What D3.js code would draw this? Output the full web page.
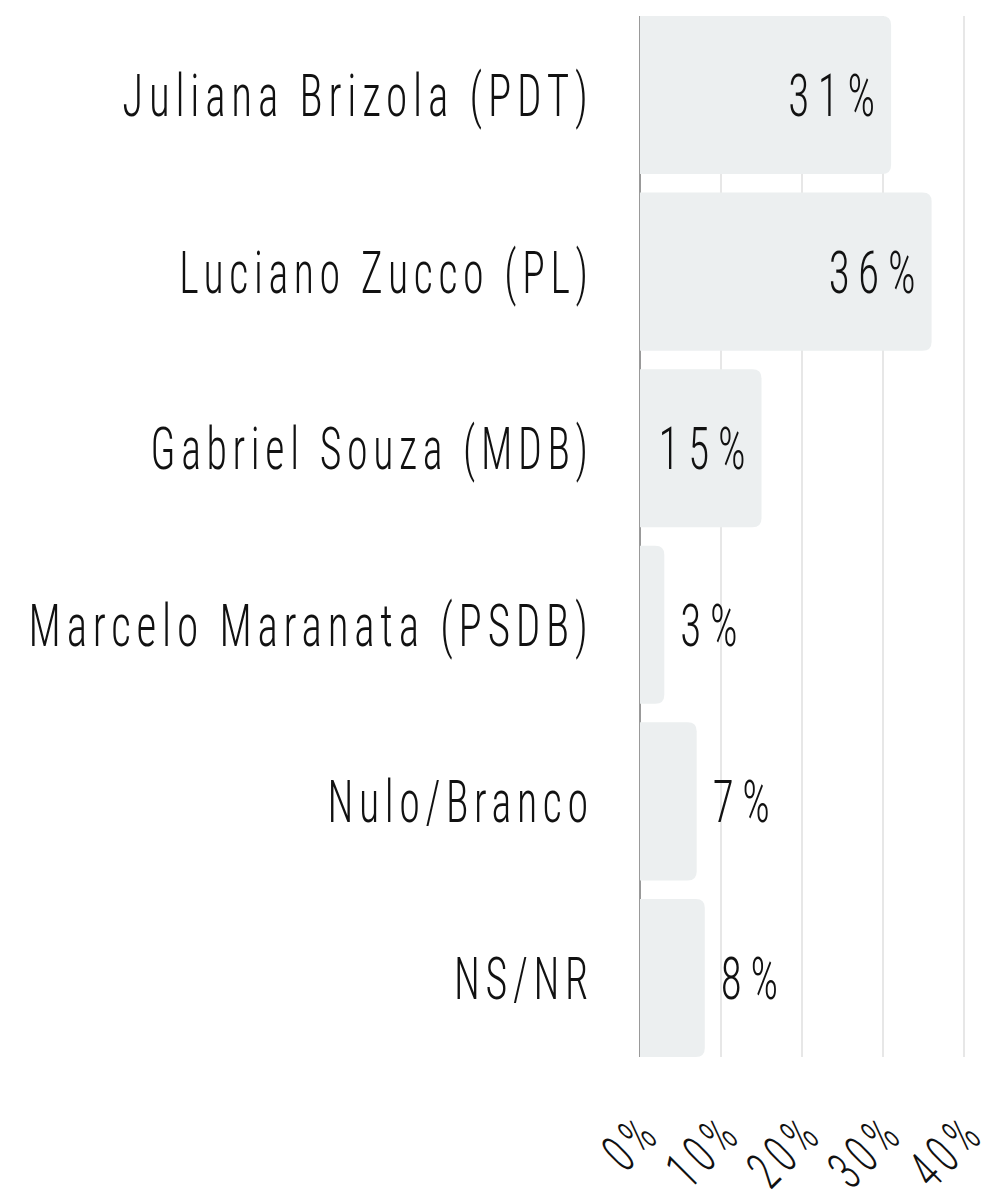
<!DOCTYPE html>
<html><head><meta charset="utf-8">
<script src="https://cdn.jsdelivr.net/npm/d3@7"></script>
<style>
html,body{margin:0;padding:0;background:#fff;}
svg text{font-family:"Roboto Condensed","Liberation Sans Narrow","DejaVu Sans Condensed","Open Sans",sans-serif;font-weight:300;fill:#111;font-feature-settings:"zero" 1,"tnum" 1;}
</style></head>
<body>
<svg id="chart" width="999" height="1201"></svg>
<script>
const categories = ["Juliana Brizola (PDT)","Luciano Zucco (PL)","Gabriel Souza (MDB)","Marcelo Maranata (PSDB)","Nulo/Branco","NS/NR"];
const values = [31,36,15,3,7,8];
const tickValues = [0,10,20,30,40];
const tickLabels = ["0%","10%","20%","30%","40%"];

const svg = d3.select("#chart");
const x = d3.scaleLinear().domain([0,40]).range([640,964]);
const y = d3.scaleBand().domain(categories).range([16,1057]).paddingInner(0.105).paddingOuter(0);
const sx = 0.7; // horizontal condensing of glyphs
const ls = 8;   // letter spacing
const trail = ls*sx; // trailing spacing after last glyph

// grid
svg.append("g").selectAll("line").data(tickValues).join("line")
  .attr("x1",d=>x(d)).attr("x2",d=>x(d)).attr("y1",16).attr("y2",1057)
  .attr("stroke",d=>d===0?"#999":"#cfcfcf").attr("stroke-width",d=>d===0?2:1);

// bars: rounded right corners only
const r = 9;
svg.append("g").selectAll("path").data(values).join("path")
  .attr("fill","#ECEFF0")
  .attr("d",(d,i)=>{
    const x0=x(0), x1=x(d), y0=y(categories[i]), h=y.bandwidth();
    const rr=Math.min(r,(x1-x0));
    return `M${x0},${y0}H${x1-rr}Q${x1},${y0} ${x1},${y0+rr}V${y0+h-rr}Q${x1},${y0+h} ${x1-rr},${y0+h}H${x0}Z`;
  });

// category labels
svg.append("g").selectAll("text").data(categories).join("text")
  .attr("transform",d=>`translate(${588+trail},${y(d)+y.bandwidth()/2}) scale(${d.length>20?0.72:sx},1)`)
  .attr("dy","0.35em").attr("text-anchor","end")
  .attr("font-size",60).attr("letter-spacing",ls)
  .text(d=>d);

// value labels
const vls = 12;
svg.append("g").selectAll("text").data(values).join("text")
  .attr("transform",(d,i)=>`translate(${d>=12?x(d)-16+vls*0.72:x(d)+16},${y(categories[i])+y.bandwidth()/2}) scale(0.72,1)`)
  .attr("text-anchor",d=>d>=12?"end":"start")
  .attr("dy","0.35em")
  .attr("font-size",60).attr("letter-spacing",vls)
  .text(d=>d+"%");

// axis tick labels rotated, end-anchored
const tls = 8;
svg.append("g").selectAll("text").data(tickValues).join("text")
  .attr("transform",d=>`translate(${x(d)+23},${1136}) rotate(-45) scale(${sx},1)`)
  .attr("text-anchor","end")
  .attr("font-size",54).attr("letter-spacing",tls)
  .text((d,i)=>tickLabels[i]);
</script>
</body></html>
